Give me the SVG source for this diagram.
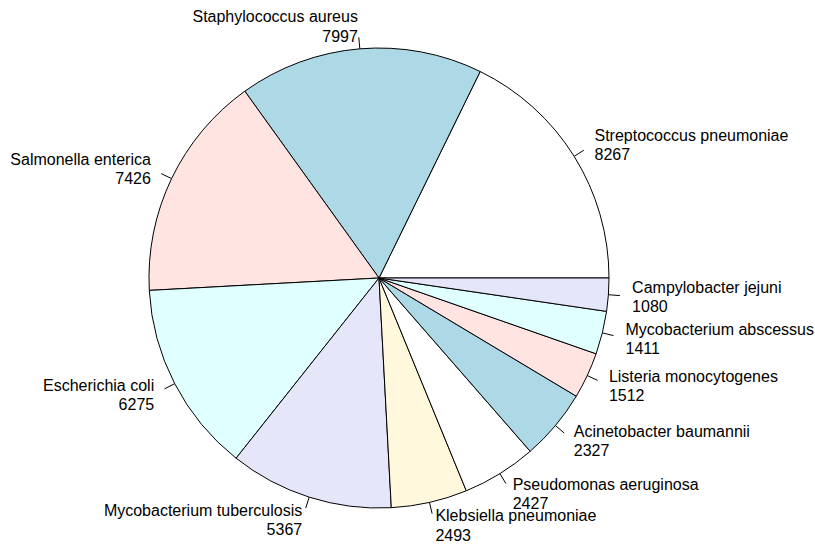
<svg xmlns="http://www.w3.org/2000/svg" width="815" height="544" viewBox="0 0 815 544">
<style>
.s{stroke:#000;stroke-width:1;stroke-linejoin:round}
.t{font-family:"Liberation Sans",Arial,Helvetica,sans-serif;font-size:16px;fill:#000}
.e{text-anchor:end}
.tick{stroke:#000;stroke-width:1;fill:none}
</style>
<rect width="815" height="544" fill="#fff"/>
<g id="slices">
<g id="strep"><path class="s" fill="#ffffff" d="M379 278 L609 278 A230 230 0 0 0 480.2 71.5 Z"/></g>
<g id="staph"><path class="s" fill="#add8e6" d="M379 278 L480.2 71.5 A230 230 0 0 0 244.8 91.2 Z"/></g>
<g id="salm"><path class="s" fill="#ffe4e1" d="M379 278 L244.8 91.2 A230 230 0 0 0 149.3 290.4 Z"/></g>
<g id="esch"><path class="s" fill="#e0ffff" d="M379 278 L149.3 290.4 A230 230 0 0 0 236.1 458.2 Z"/></g>
<g id="mtb"><path class="s" fill="#e6e6fa" d="M379 278 L236.1 458.2 A230 230 0 0 0 391.3 507.7 Z"/></g>
<g id="kleb"><path class="s" fill="#fff8dc" d="M379 278 L391.3 507.7 A230 230 0 0 0 466.3 490.8 Z"/></g>
<g id="pseud"><path class="s" fill="#ffffff" d="M379 278 L466.3 490.8 A230 230 0 0 0 530.2 451.3 Z"/></g>
<g id="acin"><path class="s" fill="#add8e6" d="M379 278 L530.2 451.3 A230 230 0 0 0 576.3 396.2 Z"/></g>
<g id="list"><path class="s" fill="#ffe4e1" d="M379 278 L576.3 396.2 A230 230 0 0 0 596.1 353.8 Z"/></g>
<g id="mabs"><path class="s" fill="#e0ffff" d="M379 278 L596.1 353.8 A230 230 0 0 0 606.6 311.4 Z"/></g>
<g id="camp"><path class="s" fill="#e6e6fa" d="M379 278 L606.6 311.4 A230 230 0 0 0 609 278 Z"/></g>
</g>
<g id="connectors">
<line class="tick" x1="574.2" y1="156.3" x2="583.9" y2="150.2"/>
<line class="tick" x1="359.8" y1="48.8" x2="358.8" y2="37.3"/>
<line class="tick" x1="171.6" y1="178.6" x2="161.2" y2="173.6"/>
<line class="tick" x1="174.7" y1="383.6" x2="164.5" y2="388.9"/>
<line class="tick" x1="309.2" y1="497.1" x2="305.7" y2="508.1"/>
<line class="tick" x1="429.5" y1="502.4" x2="432.1" y2="513.6"/>
<line class="tick" x1="499.9" y1="473.7" x2="505.9" y2="483.5"/>
<line class="tick" x1="555.4" y1="425.6" x2="564.2" y2="433.0"/>
<line class="tick" x1="587.3" y1="375.6" x2="597.7" y2="380.4"/>
<line class="tick" x1="602.4" y1="332.9" x2="613.5" y2="335.6"/>
<line class="tick" x1="608.4" y1="294.7" x2="619.9" y2="295.6"/>
</g>
<g id="labels">
<g id="lbl-strep"><text class="t" x="594.5" y="140.6">Streptococcus pneumoniae</text><text class="t" x="594.5" y="159.9">8267</text></g>
<g id="lbl-staph"><text class="t e" x="357.9" y="22.4">Staphylococcus aureus</text><text class="t e" x="357.9" y="41.7">7997</text></g>
<g id="lbl-salm"><text class="t e" x="150.9" y="165.1">Salmonella enterica</text><text class="t e" x="150.9" y="184.4">7426</text></g>
<g id="lbl-esch"><text class="t e" x="154.2" y="390.7">Escherichia coli</text><text class="t e" x="154.2" y="410.0">6275</text></g>
<g id="lbl-mtb"><text class="t e" x="302.2" y="515.5">Mycobacterium tuberculosis</text><text class="t e" x="302.2" y="534.8">5367</text></g>
<g id="lbl-kleb"><text class="t" x="435.4" y="521.3">Klebsiella pneumoniae</text><text class="t" x="435.4" y="540.6">2493</text></g>
<g id="lbl-pseud"><text class="t" x="512.7" y="489.7">Pseudomonas aeruginosa</text><text class="t" x="512.7" y="509.0">2427</text></g>
<g id="lbl-acin"><text class="t" x="573.8" y="436.9">Acinetobacter baumannii</text><text class="t" x="573.8" y="456.2">2327</text></g>
<g id="lbl-list"><text class="t" x="608.9" y="381.8">Listeria monocytogenes</text><text class="t" x="608.9" y="401.1">1512</text></g>
<g id="lbl-mabs"><text class="t" x="625.5" y="334.8">Mycobacterium abscessus</text><text class="t" x="625.5" y="354.1">1411</text></g>
<g id="lbl-camp"><text class="t" x="632.1" y="292.9">Campylobacter jejuni</text><text class="t" x="632.1" y="312.2">1080</text></g>
</g>
</svg>
